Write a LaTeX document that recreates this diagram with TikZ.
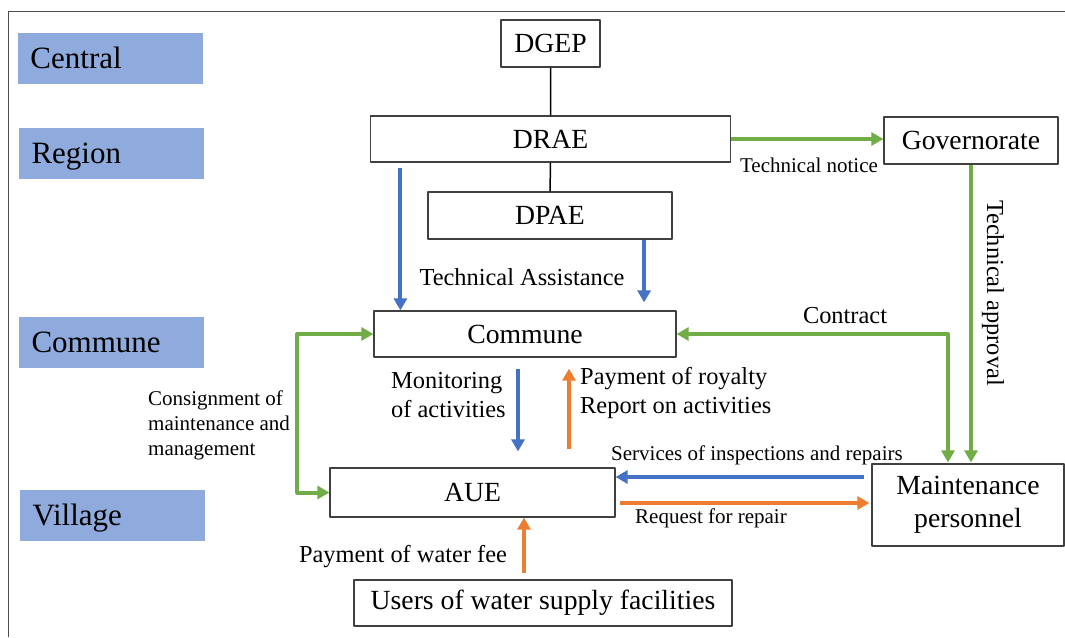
\documentclass[tikz,border=0pt]{standalone}
\usepackage{fontspec}
\setmainfont{Liberation Serif}
\usetikzlibrary{arrows.meta}
\definecolor{xanh}{HTML}{4472C4}
\definecolor{cam}{HTML}{ED7D31}
\definecolor{luc}{HTML}{70AD47}
\definecolor{nen}{HTML}{8FAADC}
\begin{document}
\begin{tikzpicture}[x = 1pt, y = -1pt, line join = round, >={Triangle[width=13pt,length=12pt]},
  hop/.style = {draw = black!75, line width = 1.2pt, inner sep = 0pt, align = center, font = \fontsize{27.7}{33}\selectfont},
  tang/.style = {fill = nen, text width = 160pt, text height = 20.5pt, text depth = 0pt, inner xsep = 12.5pt, inner ysep = 0pt, minimum height = 51pt, align = left, font = \fontsize{31}{35}\selectfont},
  nho/.style = {inner sep = 0pt, align = left, font = \fontsize{21}{25}\selectfont},
  vua/.style = {inner sep = 0pt, align = left, font = \fontsize{24.4}{29.5}\selectfont},
  muixanh/.style = {->, line width = 4pt, xanh},
  muicam/.style = {->, line width = 4pt, cam},
  muiluc/.style = {->, line width = 4pt, luc}]
\useasboundingbox (0,0) rectangle (1065,637);
%Khung
\draw[black!70, line width = 1pt] (1065,11)--(8,11)--(8,637);
%Các cấp
\node[tang] (central) at (110.5,58.5) {Central};
\node[tang] (region) at (111.5,153) {Region};
\node[tang] (communelv) at (111.5,342.5) {Commune};
\node[tang] (village) at (112.5,515.5) {Village};
%Các hộp
\node[hop, minimum width = 99pt, minimum height = 47pt] (dgep) at (550.5,43.5) {DGEP};
\node[hop, minimum width = 360pt, minimum height = 46pt] (drae) at (550.5,139) {DRAE};
\node[hop, minimum width = 244pt, minimum height = 47pt] (dpae) at (550,215.5) {DPAE};
\node[hop, minimum width = 174pt, minimum height = 47pt] (gov) at (971,140.5) {Governorate};
\node[hop, minimum width = 302pt, minimum height = 46pt] (commune) at (525,334) {Commune};
\node[hop, minimum width = 285pt, minimum height = 49pt] (aue) at (472.5,492.5) {AUE};
\node[hop, minimum width = 192pt, minimum height = 82pt] (maint) at (968,505) {Maintenance\\personnel};
\node[hop, minimum width = 378pt, minimum height = 46pt] (users) at (543,603) {Users of water supply facilities};
%Đường nối
\draw[line width = 1.5pt] (dgep)--(drae) (drae)--(dpae);
\draw[muixanh] ([xshift = 30.5pt, yshift = -5pt]drae.south west)--([xshift = 27pt]commune.north west);
\draw[muixanh] ([xshift = -28.5pt]dpae.south east)--([xshift = -32.5pt, yshift = 8pt]commune.north east);
\draw[muiluc] (drae.east)--(drae.east -| gov.west);
\draw[muiluc] (gov.south)--([yshift = 1pt]gov.south |- maint.north);
\draw[muiluc, <->] (commune.east)-|([xshift = -20pt, yshift = 1pt]maint.north);
\draw[muiluc, <->] (commune.west)--++(-76,0)|-(aue.west);
\draw[muixanh] ([xshift = -7pt, yshift = -11pt]commune.south)--([xshift = 45.5pt, yshift = 16pt]aue.north);
\draw[muicam] ([xshift = 96.5pt, yshift = 18pt]aue.north)--([xshift = 44pt, yshift = -11pt]commune.south);
\draw[muixanh] ([xshift = -7pt, yshift = 28pt]maint.west)--([yshift = 15.5pt]aue.east);
\draw[muicam] ([xshift = 4pt, yshift = -10.5pt]aue.east)--([xshift = -2pt, yshift = 2pt]maint.west);
\draw[muicam] ([xshift = -19pt, yshift = 6pt]users.north)--([xshift = 51.5pt]aue.south);
%Nhãn
\node[nho] (tnotice) at (809,165) {Technical notice};
\node[vua, rotate = -90] (tapproval) at (993,293) {Technical approval};
\node[vua] (tassist) at (522,277) {Technical Assistance};
\node[vua] (contract) at (845,316) {Contract};
\node[vua, anchor = west] (monitor) at (391,395) {Monitoring\\of activities};
\node[vua, anchor = west] (royalty) at (580,393) {Payment of royalty\\Report on activities};
\node[nho] (services) at (757,455) {Services of inspections and repairs};
\node[nho, anchor = west] (request) at (635,518) {Request for repair};
\node[nho, anchor = west] (consign) at (148,425) {Consignment of\\maintenance and\\management};
\node[vua] (waterfee) at (403,557) {Payment of water fee};
\end{tikzpicture}
\end{document}
